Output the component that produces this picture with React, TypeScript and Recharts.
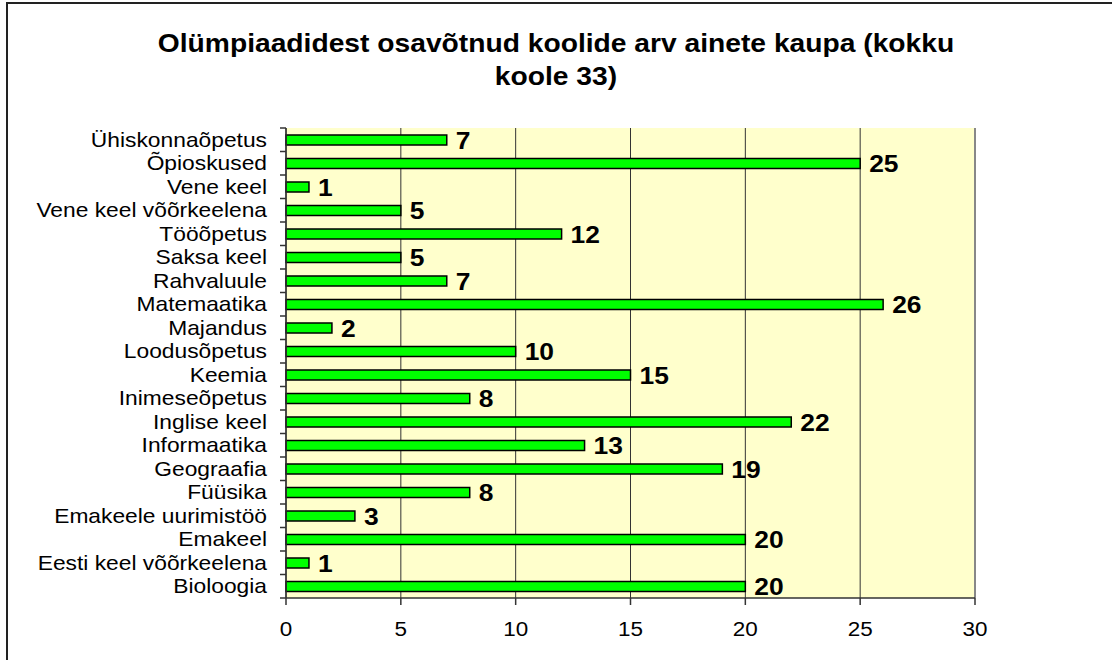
import { BarChart, Bar, XAxis, YAxis, CartesianGrid, ReferenceLine, LabelList } from 'recharts';

const subjects = [
  'Ühiskonnaõpetus',
  'Õpioskused',
  'Vene keel',
  'Vene keel võõrkeelena',
  'Tööõpetus',
  'Saksa keel',
  'Rahvaluule',
  'Matemaatika',
  'Majandus',
  'Loodusõpetus',
  'Keemia',
  'Inimeseõpetus',
  'Inglise keel',
  'Informaatika',
  'Geograafia',
  'Füüsika',
  'Emakeele uurimistöö',
  'Emakeel',
  'Eesti keel võõrkeelena',
  'Bioloogia',
];
const schools = [7, 25, 1, 5, 12, 5, 7, 26, 2, 10, 15, 8, 22, 13, 19, 8, 3, 20, 1, 20];
const xTicks = [0, 5, 10, 15, 20, 25, 30];

const FONT = '"Liberation Sans", Arial, sans-serif';
const PLOT_TOP = 128;
const PLOT_BOTTOM = 598;
const band = (PLOT_BOTTOM - PLOT_TOP) / subjects.length;

const data = subjects.map((name, i) => ({ name, value: schools[i] }));

// Excel style: label centred in the band, tick marks on the band edges
function SubjectTick(props: any) {
  const { x, y, payload, index } = props;
  return (
    <g>
      <line x1={x - 6} x2={x} y1={y - band / 2} y2={y - band / 2} stroke="#333" strokeWidth={1.5} />
      {index === subjects.length - 1 && (
        <line x1={x - 6} x2={x} y1={y + band / 2} y2={y + band / 2} stroke="#333" strokeWidth={1.5} />
      )}
      <text
        transform={`translate(${x - 19},${y}) scale(1.14,1)`}
        dy="0.36em"
        textAnchor="end"
        fontSize={20}
        fill="#000"
        fontFamily={FONT}
      >
        {payload.value}
      </text>
    </g>
  );
}

function XTick(props: any) {
  const { x, y, payload } = props;
  return (
    <text transform={`translate(${x},${y}) scale(1.07,1)`} dy="0.71em" textAnchor="middle" fontSize={21} fill="#000" fontFamily={FONT}>
      {payload.value}
    </text>
  );
}

function ValueLabel(props: any) {
  const { x, y, width, height, value } = props;
  return (
    <text
      transform={`translate(${x + width + 9},${y + height / 2}) scale(1.1,1)`}
      dy="0.36em"
      fontSize={24}
      fontWeight="bold"
      fill="#000"
      fontFamily={FONT}
    >
      {value}
    </text>
  );
}

export default function App() {
  return (
    <div style={{ position: 'absolute', left: 0, top: 0, width: 1112, height: 660, background: '#fff', fontFamily: FONT, overflow: 'hidden' }}>
      <div style={{ position: 'absolute', left: 6, top: 2, width: 1200, height: 700, borderLeft: '2px solid #222', borderTop: '2px solid #222' }} />
      <div
        style={{
          position: 'absolute',
          left: 0,
          top: 27,
          width: 1112,
          textAlign: 'center',
          fontWeight: 'bold',
          fontSize: 26,
          lineHeight: '33px',
          color: '#000',
          transform: 'scaleX(1.085)',
          transformOrigin: '556px 0',
        }}
      >
        Olümpiaadidest osavõtnud koolide arv ainete kaupa (kokku
        <br />
        koole 33)
      </div>
      <div style={{ position: 'absolute', left: 0, top: 0 }}>
        <BarChart
          width={1112}
          height={660}
          data={data}
          layout="vertical"
          margin={{ top: PLOT_TOP, right: 137, bottom: 0, left: 0 }}
          barSize={10}
        >
          <CartesianGrid horizontal={false} vertical fill="#FFFFCC" stroke="#333" strokeWidth={1} />
          <XAxis
            type="number"
            domain={[0, 30]}
            ticks={xTicks}
            interval={0}
            height={660 - PLOT_BOTTOM}
            axisLine={{ stroke: '#333', strokeWidth: 1.5 }}
            tickLine={{ stroke: '#333', strokeWidth: 1.5 }}
            tickSize={7}
            tickMargin={16}
            tick={<XTick />}
          />
          <XAxis
            xAxisId="top"
            orientation="top"
            type="number"
            domain={[0, 30]}
            height={0}
            tick={false}
            tickLine={false}
            axisLine={{ stroke: '#888', strokeWidth: 2 }}
          />
          <YAxis
            type="category"
            dataKey="name"
            width={286}
            interval={0}
            tickSize={0}
            tickMargin={0}
            tickLine={false}
            axisLine={{ stroke: '#333', strokeWidth: 1.5 }}
            tick={<SubjectTick />}
          />
          <ReferenceLine x={30} stroke="#888" strokeWidth={2} />
          <Bar dataKey="value" fill="#00FF00" stroke="#000" strokeWidth={1.5} isAnimationActive={false}>
            <LabelList dataKey="value" content={<ValueLabel />} />
          </Bar>
        </BarChart>
      </div>
    </div>
  );
}
